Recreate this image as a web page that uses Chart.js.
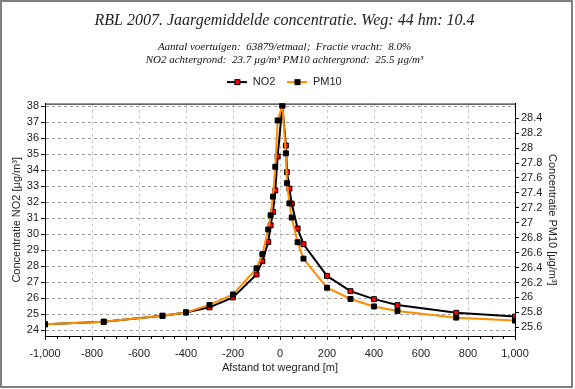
<!DOCTYPE html>
<html>
<head>
<meta charset="utf-8">
<script src="https://cdn.jsdelivr.net/npm/chart.js@4"></script>
<style>
  html, body { margin: 0; padding: 0; background: #fff; }
  #frame { position: absolute; left: 0; top: 0; width: 573px; height: 388px; box-sizing: border-box; border: 2px solid #7f7f7f; }
  canvas { display: block; }
</style>
</head>
<body>
<div id="frame"><canvas id="chart" width="569" height="384"></canvas></div>
<script>
// Data
const distances = [-1000, -750, -500, -400, -300, -200, -100, -75, -50, -40, -30, -20, -10,
                   10, 25, 30, 40, 50, 75, 100, 200, 300, 400, 500, 750, 1000];
const no2Values = [24.38, 24.54, 24.91, 25.12, 25.44, 26.06, 27.49, 28.32, 29.52, 30.56, 31.39, 32.74, 34.86,
                   38.03, 35.54, 33.88, 32.85, 31.91, 30.36, 29.38, 27.40, 26.45, 25.95, 25.58, 25.10, 24.86];
const pm10Values = [25.64, 25.675, 25.755, 25.80, 25.90, 26.04, 26.39, 26.58, 26.91, 27.10, 27.35, 27.75, 28.37,
                    28.57, 27.93, 27.53, 27.26, 27.07, 26.74, 26.52, 26.13, 25.98, 25.88, 25.82, 25.73, 25.69];

// Axis ranges and tick steps
const xRange = [-1000, 1000];
const xStep = 200;
const xMinorStep = 50;
const no2Range = [23.65, 38.16];
const no2Step = 1;
const pm10Range = [25.484, 28.596];
const pm10Step = 0.2;

const sans = "'Liberation Sans', Arial, sans-serif";
const serif = "'Liberation Serif', 'Times New Roman', serif";

// Legend icon: line with a square marker in the middle
function legendIcon(lineColor, markerFill) {
  const c = document.createElement("canvas");
  c.width = 20; c.height = 8;
  const g = c.getContext("2d");
  g.strokeStyle = lineColor;
  g.lineWidth = 2;
  g.beginPath(); g.moveTo(0, 4); g.lineTo(20, 4); g.stroke();
  g.fillStyle = "#000";
  g.fillRect(7, 1, 6, 6);
  g.fillStyle = markerFill;
  g.fillRect(8, 2, 4, 4);
  return c;
}

// Top border of the plot box and minor ticks on the x axis
const framePlugin = {
  id: "frame",
  afterDraw(chart) {
    const { ctx, chartArea } = chart;
    const x = chart.scales.x;
    ctx.save();
    ctx.strokeStyle = "#000";
    ctx.lineWidth = 1;
    ctx.beginPath();
    ctx.moveTo(chartArea.left, chartArea.top + 0.5);
    ctx.lineTo(chartArea.right, chartArea.top + 0.5);
    for (let v = xRange[0]; v <= xRange[1]; v += xMinorStep) {
      if (v % xStep === 0) continue;
      const px = Math.round(x.getPixelForValue(v)) + 0.5;
      ctx.moveTo(px, chartArea.bottom);
      ctx.lineTo(px, chartArea.bottom + 3);
    }
    ctx.stroke();
    ctx.restore();
  },
};

const tickFont = { family: sans, size: 11 };

const ctx = document.getElementById("chart").getContext("2d");
new Chart(ctx, {
  type: "line",
  data: {
    datasets: [
      {
        label: "NO2",
        data: distances.map((d, i) => ({ x: d, y: no2Values[i] })),
        yAxisID: "yNO2",
        borderColor: "#000",
        borderWidth: 2,
        pointStyle: "rect",
        pointRadius: 3.5,
        pointBackgroundColor: "#ff0000",
        pointBorderColor: "#000",
        pointBorderWidth: 1,
        tension: 0,
        order: 1,
      },
      {
        label: "PM10",
        data: distances.map((d, i) => ({ x: d, y: pm10Values[i] })),
        yAxisID: "yPM10",
        borderColor: "#ff8c00",
        borderWidth: 2,
        pointStyle: "rect",
        pointRadius: 3.5,
        pointBackgroundColor: "#000",
        pointBorderColor: "#000",
        pointBorderWidth: 1,
        tension: 0,
        order: 0,
      },
    ],
  },
  options: {
    responsive: false,
    animation: false,
    layout: { padding: { left: 8, right: 12, top: 0, bottom: 11 } },
    plugins: {
      tooltip: { enabled: false },
      title: {
        display: true,
        text: "RBL 2007. Jaargemiddelde concentratie. Weg: 44 hm: 10.4",
        color: "#222",
        font: { family: serif, size: 16, style: "italic", weight: "normal" },
        padding: { top: 9, bottom: 3 },
      },
      subtitle: {
        display: true,
        text: ["Aantal voertuigen:  63879/etmaal;  Fractie vracht:  8.0%",
               "NO2 achtergrond:  23.7 µg/m³ PM10 achtergrond:  25.5 µg/m³"],
        color: "#111",
        font: { family: serif, size: 11, style: "italic", weight: "normal" },
        padding: { top: 7, bottom: -2 },
      },
      legend: {
        display: true,
        position: "top",
        labels: {
          usePointStyle: true,
          pointStyleWidth: 20,
          color: "#222",
          font: { family: sans, size: 11 },
          padding: 12,
          generateLabels: () => [
            { text: "NO2", pointStyle: legendIcon("#000", "#ff0000"), fontColor: "#222", lineWidth: 0, datasetIndex: 0 },
            { text: "PM10", pointStyle: legendIcon("#ff8c00", "#000"), fontColor: "#222", lineWidth: 0, datasetIndex: 1 },
          ],
        },
      },
    },
    scales: {
      x: {
        type: "linear",
        position: "bottom",
        min: xRange[0],
        max: xRange[1],
        afterFit: (s) => { s.height = 39; },
        ticks: { stepSize: xStep, autoSkip: false, maxRotation: 0, color: "#222", font: tickFont, padding: 7 },
        grid: { color: "#c8c8c8", tickColor: "#000", tickLength: 4, tickBorderDash: [] },
        border: { color: "#000", width: 1, dash: [3, 3] },
        title: { display: true, text: "Afstand tot wegrand [m]", color: "#222", font: tickFont, padding: 0 },
      },
      // empty spacer between legend and plot box
      gap: {
        type: "linear",
        position: "top",
        min: 0,
        max: 1,
        afterFit: (s) => { s.height = 6; },
        ticks: { display: false },
        grid: { display: false },
        border: { display: false },
      },
      yNO2: {
        type: "linear",
        position: "left",
        min: no2Range[0],
        max: no2Range[1],
        afterFit: (s) => { s.width = 35; },
        ticks: { stepSize: no2Step, includeBounds: false, maxTicksLimit: 20, color: "#222", font: tickFont, padding: 2 },
        grid: { color: "#9a9a9a", tickColor: "#000", tickLength: 4, tickBorderDash: [] },
        border: { color: "#000", width: 1, dash: [3, 3] },
        title: { display: true, text: "Concentratie NO2 [µg/m³]", color: "#222", font: tickFont, padding: 0 },
      },
      yPM10: {
        type: "linear",
        position: "right",
        min: pm10Range[0],
        max: pm10Range[1],
        afterFit: (s) => { s.width = 44; },
        ticks: {
          stepSize: pm10Step, includeBounds: false, maxTicksLimit: 20, color: "#222", font: tickFont, padding: 2,
          callback: (v) => String(Number(v.toFixed(1))),
        },
        grid: { drawOnChartArea: false, color: "#000", tickColor: "#000", tickLength: 4, tickBorderDash: [] },
        border: { color: "#000", width: 1 },
        title: { display: true, text: "Concentratie PM10 [µg/m³]", color: "#222", font: tickFont, padding: 0 },
      },
    },
  },
  plugins: [framePlugin],
});
</script>
</body>
</html>
